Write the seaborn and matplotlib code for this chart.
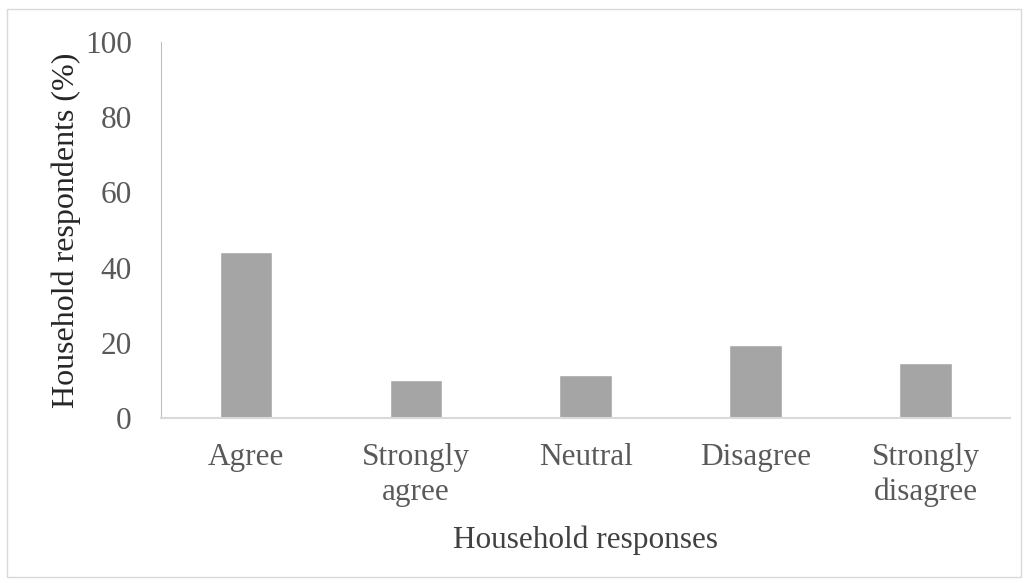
import pandas as pd
import matplotlib
matplotlib.use('Agg')
import matplotlib.pyplot as plt
import seaborn as sns
from matplotlib.patches import Rectangle

responses = ['Agree', 'Strongly\nagree', 'Neutral', 'Disagree', 'Strongly\ndisagree']
percent = [44.1, 10.1, 11.4, 19.4, 14.6]
y_ticks = [0, 20, 40, 60, 80, 100]

df = pd.DataFrame({'response': responses, 'percent': percent})

sns.set_style('white')
plt.rcParams['font.family'] = ['Liberation Serif', 'DejaVu Serif']

fig = plt.figure(figsize=(10.29, 5.83), dpi=100)
ax = fig.add_axes([0.1565, 0.283, 0.8255, 0.645])

sns.barplot(data=df, x='response', y='percent', color='#A5A5A5', width=0.31,
            saturation=1, ax=ax)

ax.set_ylim(0, 100)
ax.set_yticks(y_ticks)
ax.set_xlim(-0.5, 4.5)
ax.tick_params(axis='y', labelsize=22.5, labelcolor='#595959', length=0, pad=21)
ax.tick_params(axis='x', labelsize=22.5, labelcolor='#595959', length=0, pad=18)
for lbl in ax.get_xticklabels():
    lbl.set_linespacing(1.25)

ax.set_xlabel('Household responses', fontsize=22.5, color='#404040', labelpad=13)
ax.set_ylabel('Household respondents (%)', fontsize=23, color='#262626', labelpad=3)

for s in ['top', 'right']:
    ax.spines[s].set_visible(False)
ax.spines['left'].set_color('#BFBFBF')
ax.spines['bottom'].set_color('#D9D9D9')
ax.spines['bottom'].set_linewidth(1.5)
ax.grid(False)

fig.patches.append(Rectangle((0.007, 0.010), 0.985, 0.975, transform=fig.transFigure,
                             fill=False, edgecolor='#D9D9D9', linewidth=1))

fig.savefig('out.png', dpi=100)
